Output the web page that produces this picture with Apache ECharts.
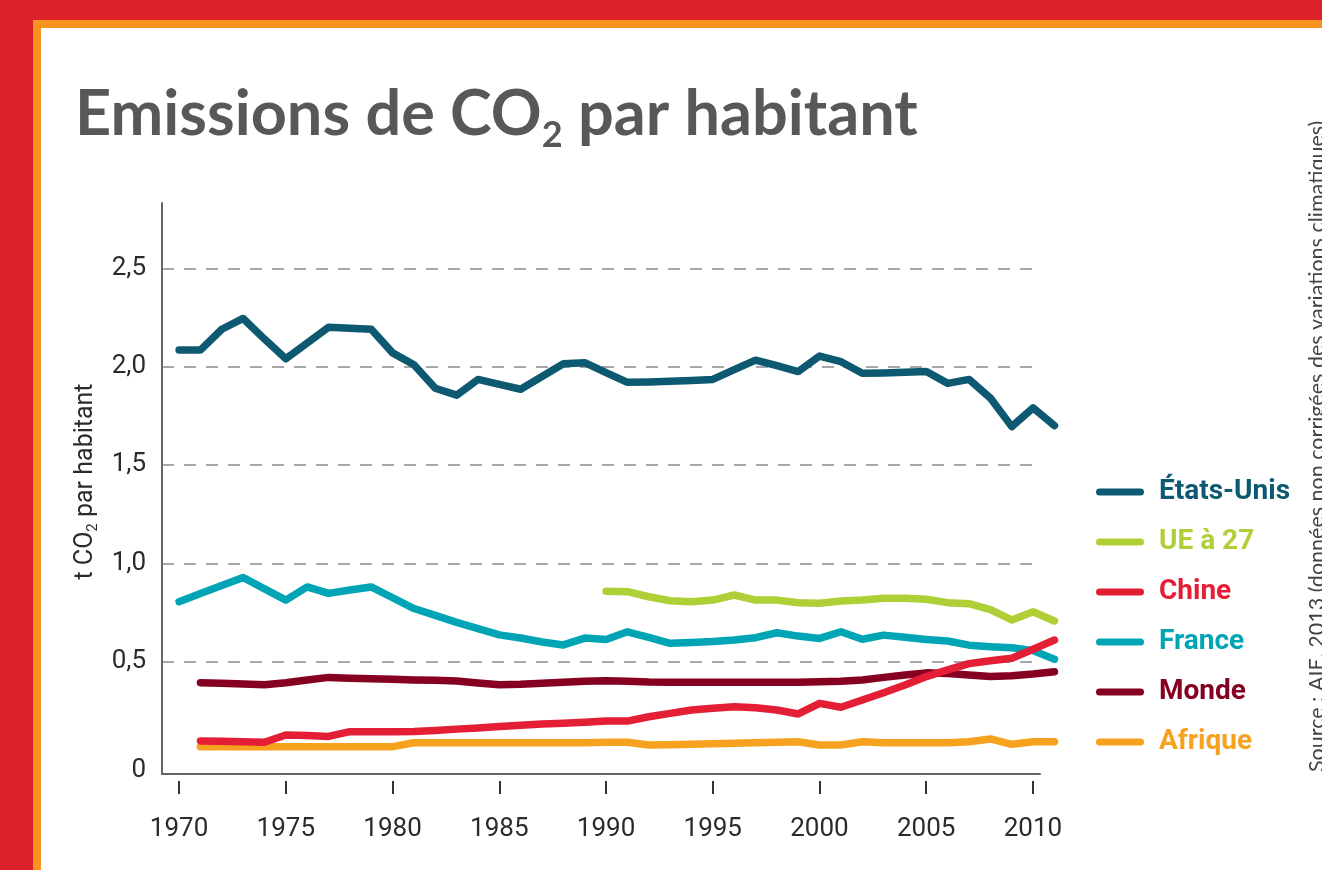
<!DOCTYPE html>
<html>
<head>
<meta charset="utf-8">
<script src="https://cdn.jsdelivr.net/npm/echarts@6/dist/echarts.min.js"></script>
<style>
  html, body { margin: 0; padding: 0; width: 1322px; height: 870px; overflow: hidden; }
  #red { position: absolute; left: 0; top: 0; width: 1322px; height: 870px; background: #DC2128; }
  #orange { position: absolute; left: 33px; top: 20px; right: 0; bottom: 0; background: #F7931E; }
  #white { position: absolute; left: 41px; top: 28px; right: 0; bottom: 0; background: #ffffff; }
  #chart { position: absolute; left: 0; top: 0; width: 1322px; height: 870px; }
</style>
</head>
<body>
<div id="red"></div><div id="orange"></div><div id="white"></div>
<div id="chart"></div>
<script>
const years = [1970,1971,1972,1973,1974,1975,1976,1977,1978,1979,1980,1981,1982,1983,1984,1985,1986,1987,1988,1989,1990,
               1991,1992,1993,1994,1995,1996,1997,1998,1999,2000,2001,2002,2003,2004,2005,2006,2007,2008,2009,2010,2011];

const etatsUnis = [2.084,2.084,2.19,2.245,2.14,2.04,2.12,2.20,2.195,2.19,2.07,2.01,1.89,1.855,1.935,1.91,1.885,1.95,2.015,2.02,1.97,
                   1.92,1.922,1.926,1.93,1.935,1.985,2.033,2.005,1.975,2.054,2.025,1.966,1.968,1.972,1.975,1.915,1.935,1.84,1.695,1.79,1.70];
const ue27 = [null,null,null,null,null,null,null,null,null,null,null,null,null,null,null,null,null,null,null,null,0.858,
              0.856,0.83,0.81,0.805,0.813,0.839,0.813,0.813,0.80,0.797,0.808,0.813,0.822,0.822,0.817,0.80,0.795,0.765,0.712,0.754,0.707];
const chine = [null,0.097,0.095,0.093,0.09,0.127,0.124,0.12,0.144,0.144,0.144,0.145,0.15,0.157,0.163,0.17,0.177,0.183,0.187,0.192,0.198,
               0.198,0.22,0.237,0.254,0.263,0.271,0.266,0.254,0.234,0.288,0.268,0.305,0.342,0.381,0.424,0.458,0.49,0.505,0.517,0.563,0.61];
const france = [0.805,0.846,0.887,0.928,0.87,0.813,0.88,0.847,0.864,0.88,0.825,0.77,0.735,0.70,0.668,0.636,0.62,0.60,0.585,0.62,0.613,
                0.652,0.624,0.593,0.597,0.602,0.61,0.622,0.647,0.63,0.618,0.652,0.614,0.635,0.624,0.613,0.605,0.584,0.576,0.571,0.556,0.512];
const monde = [null,0.393,0.39,0.387,0.383,0.393,0.407,0.42,0.416,0.413,0.41,0.407,0.405,0.402,0.392,0.383,0.385,0.39,0.395,0.40,0.403,
               0.40,0.396,0.395,0.395,0.395,0.395,0.395,0.395,0.395,0.398,0.40,0.407,0.42,0.432,0.443,0.44,0.432,0.424,0.428,0.437,0.449];
const afrique = [null,0.068,0.068,0.068,0.068,0.068,0.068,0.068,0.068,0.068,0.068,0.088,0.088,0.088,0.088,0.088,0.088,0.088,0.088,0.088,0.09,
                 0.09,0.076,0.077,0.08,0.082,0.085,0.088,0.09,0.093,0.076,0.076,0.093,0.088,0.088,0.088,0.088,0.093,0.107,0.08,0.093,0.093];

const xTicks = [1970,1975,1980,1985,1990,1995,2000,2005,2010];
const yTicks = [0,0.5,1.0,1.5,2.0,2.5];

const seriesDefs = [
  { name: 'Afrique',    values: afrique,   color: '#F6A21E' },
  { name: 'Monde',      values: monde,     color: '#860022' },
  { name: 'France',     values: france,    color: '#00A5B5' },
  { name: 'UE à 27',    values: ue27,      color: '#AFCF36' },
  { name: 'Chine',      values: chine,     color: '#E31E35' },
  { name: 'États-Unis', values: etatsUnis, color: '#0C5971' }
];
const legendOrder = ['États-Unis','UE à 27','Chine','France','Monde','Afrique'];

const narrow = '"Liberation Sans Narrow", "Roboto", sans-serif';
const XMIN = 1969.2, YMAX = 2.832;
const stadium = 'path://M3.5,0 L44.5,0 A3.5,3.5 0 0 1 44.5,7 L3.5,7 A3.5,3.5 0 0 1 3.5,0 Z';

const chart = echarts.init(document.getElementById('chart'), null, { renderer: 'canvas' });
chart.setOption({
  backgroundColor: 'transparent',
  animation: false,
  title: {
    left: 70, top: 72,
    text: '{a|Emissions de CO}{s|2}{a| par habitant}',
    textStyle: {
      rich: {
        a: { fontFamily: 'Lato', fontWeight: 'bold', fontSize: 63, color: '#58585A', lineHeight: 76, verticalAlign: 'middle' },
        s: { fontFamily: 'Lato', fontWeight: 'bold', fontSize: 36, color: '#58585A', lineHeight: 52, verticalAlign: 'bottom' }
      }
    }
  },
  grid: [
    { left: 162, right: 259, top: 203, bottom: 110 },
    { left: 162, right: 282, top: 203, bottom: 96 },
    { left: 162, right: 286, top: 203, bottom: 110 }
  ],
  xAxis: [
    { type: 'value', gridIndex: 0, min: XMIN, max: 2011.4, show: false },
    { type: 'value', gridIndex: 1, min: XMIN, max: 2010.33,
      axisLine: { show: true, lineStyle: { color: '#666', width: 2 } },
      axisTick: { show: false }, splitLine: { show: false },
      axisLabel: { show: false } },
    { type: 'value', gridIndex: 1, min: XMIN, max: 2010.33, position: 'bottom', offset: 7,
      axisLine: { show: false },
      axisTick: { show: true, length: 13, lineStyle: { color: '#333', width: 2 }, customValues: xTicks },
      axisLabel: { show: true, customValues: xTicks, margin: 35, fontFamily: narrow, fontSize: 26, color: '#2b2b2b',
                   formatter: v => String(v) },
      splitLine: { show: false } },
    { type: 'value', gridIndex: 2, min: XMIN, max: 2010.14, show: false }
  ],
  yAxis: [
    { type: 'value', gridIndex: 0, min: 0, max: YMAX, show: false },
    { type: 'value', gridIndex: 1, min: 0, max: 1,
      axisLine: { show: true, lineStyle: { color: '#666', width: 2 } },
      axisTick: { show: false }, axisLabel: { show: false }, splitLine: { show: false } },
    { type: 'value', gridIndex: 2, min: 0, max: YMAX, interval: 0.5,
      axisLine: { show: false }, axisTick: { show: false },
      axisLabel: { margin: 16, fontFamily: narrow, fontSize: 26, color: '#2b2b2b', showMaxLabel: false,
                   formatter: v => (yTicks.indexOf(v) < 0 ? '' : (v === 0 ? '{z|0}' : v.toFixed(1).replace('.', ','))),
                   rich: { z: { fontFamily: narrow, fontSize: 26, color: '#2b2b2b', padding: [20, 0, 0, 0] } } },
      splitLine: { show: true, showMinLine: false, showMaxLine: false, lineStyle: { color: '#a6a6a6', width: 2, type: [12, 10] } },
      name: '{a|t CO}{s|2}{a| par habitant}',
      nameLocation: 'middle', nameGap: 60,
      nameTextStyle: {
        rich: {
          a: { fontFamily: narrow, fontSize: 25, color: '#2b2b2b', lineHeight: 30, verticalAlign: 'middle' },
          s: { fontFamily: narrow, fontSize: 15, color: '#2b2b2b', lineHeight: 16, verticalAlign: 'bottom' }
        }
      }
    }
  ],
  legend: {
    orient: 'vertical', left: 1091, top: 472,
    itemWidth: 48, itemHeight: 7, itemGap: 20,
    selectedMode: false,
    textStyle: { fontFamily: narrow, fontWeight: 'bold', fontSize: 28, lineHeight: 30, padding: [0, 0, 0, 10] },
    data: legendOrder.map(n => {
      const d = seriesDefs.find(s => s.name === n);
      return { name: n, icon: stadium, itemStyle: { color: d.color }, textStyle: { color: d.color } };
    })
  },
  graphic: [
    { type: 'text', x: 1317, y: 772, rotation: Math.PI / 2,
      style: { text: 'Source : AIE, 2013 (données non corrigées des variations climatiques)',
               font: '21.5px Lato', fill: '#444', align: 'left', verticalAlign: 'middle' } }
  ],
  series: seriesDefs.map(d => ({
    name: d.name, type: 'line', xAxisIndex: 0, yAxisIndex: 0,
    symbol: 'none', clip: false, connectNulls: false,
    itemStyle: { color: d.color },
    lineStyle: { color: d.color, width: 7.5, cap: 'round', join: 'round' },
    data: years.map((y, i) => [y, d.values[i]]).filter(p => p[1] !== null)
  }))
});
</script>
</body>
</html>
